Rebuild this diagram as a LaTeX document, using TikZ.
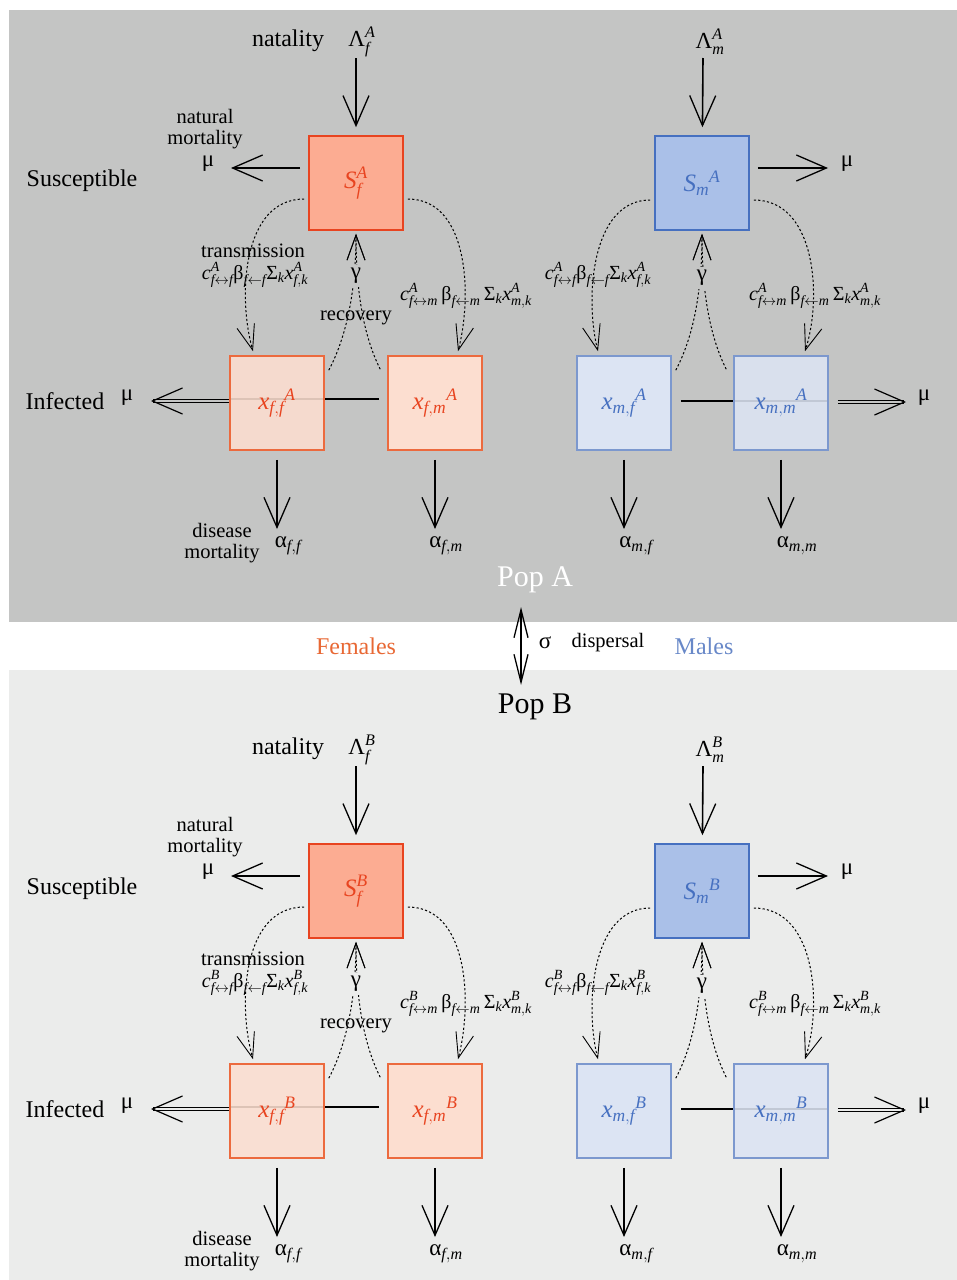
\documentclass[tikz,border=0pt]{standalone}
\usepackage{amsmath}
\usepackage{fontspec}
\setmainfont{Liberation Serif}
\usetikzlibrary{arrows.meta,backgrounds}

\definecolor{panelA}{RGB}{196,197,196}
\definecolor{panelB}{RGB}{235,236,235}
\definecolor{femline}{RGB}{232,68,32}
\definecolor{femfill}{RGB}{252,172,146}
\definecolor{femlight}{RGB}{252,222,208}
\definecolor{femedge}{RGB}{236,106,62}
\definecolor{malline}{RGB}{70,112,192}
\definecolor{malfill}{RGB}{170,192,232}
\definecolor{mallight}{RGB}{220,228,243}
\definecolor{maledge}{RGB}{124,152,206}
\definecolor{femtext}{RGB}{232,104,52}
\definecolor{maltext}{RGB}{104,136,200}

\newcommand{\vi}[1]{\textit{#1}}
\newcommand{\gr}[1]{\text{#1}}

\begin{document}
\begin{tikzpicture}[x=1pt,y=-1pt,
    box/.style={draw,line width=1.6pt,minimum size=94pt,inner sep=0pt,font=\fontsize{25}{27}\selectfont},
    sf/.style={box,draw=femline,fill=femfill,text=femline},
    sm/.style={box,draw=malline,fill=malfill,text=malline},
    xf/.style={box,draw=femedge,fill=femlight,text=femline},
    xm/.style={box,draw=maledge,fill=mallight,text=malline},
    seethru/.style={fill opacity=0.88,text opacity=1},
    lbl/.style={font=\fontsize{20.5}{21}\selectfont,align=center,inner sep=0pt},
    big/.style={font=\fontsize{24}{26}\selectfont,inner sep=0pt},
    rate/.style={font=\fontsize{23}{25}\selectfont,inner sep=0pt},
    frm/.style={font=\fontsize{20}{22}\selectfont,inner sep=0pt},
    flow/.style={line width=1.6pt,-{Straight Barb[length=30pt,width=26pt,line width=1.3pt]}},
    loss/.style={line width=1.2pt,double distance=2.4pt,-{Straight Barb[length=30pt,width=26pt]}},
    infect/.style={dash pattern=on 2.2pt off 2.2pt,line width=1pt,-{Straight Barb[length=25pt,width=18pt,line width=0.9pt]}},
    link/.style={line width=1.6pt},
    mig/.style={line width=1.3pt,{Straight Barb[length=28pt,width=14pt]}-{Straight Barb[length=28pt,width=14pt]}}]

    \useasboundingbox (0,0) rectangle (957,1280);
    \begin{pgfonlayer}{background}
    \fill[panelA] (9,10) rectangle (957,622);
    \fill[panelB] (9,670) rectangle (957,1280);
    \end{pgfonlayer}

    \foreach \p/\dy/\bg in {A/0/panelA,B/708/panelB}{
    \begin{scope}[yshift=-\dy pt]

    \node[big] (Sus\p) at (82,181) {Susceptible};
    \node[big] (Inf\p) at (65,401) {Infected};

    % compartments
    \node[sf] (Sf\p) at (356,183) {$\vi{S}_{\vi{f}}^{\vi{\p}}$};
    \node[xf,seethru] (Xff\p) at (277,403) {$\vi{x}_{\vi{f},\vi{f}}{}^{\vi{\p}}$};
    \node[xf] (Xfm\p) at (435,403) {$\vi{x}_{\vi{f},\vi{m}}{}^{\vi{\p}}$};
    \node[sm] (Sm\p) at (702,183) {$\vi{S}_{\vi{m}}{}^{\vi{\p}}$};
    \node[xm] (Xmf\p) at (624,403) {$\vi{x}_{\vi{m},\vi{f}}{}^{\vi{\p}}$};
    \node[xm,seethru] (Xmm\p) at (781,403) {$\vi{x}_{\vi{m},\vi{m}}{}^{\vi{\p}}$};

    \begin{pgfonlayer}{background}
    \draw[link,shorten <=8pt] ([yshift=4pt]Xfm\p.west) -- ([yshift=4pt]Xff\p.west);
    \draw[link,shorten <=9pt] ([yshift=2pt]Xmf\p.east) -- ([yshift=2pt]Xmm\p.east);
    \end{pgfonlayer}

    % natality
    \node[big] (Nat\p) at (288,41) {natality};
    \node[rate] (Lf\p) at (362,42) {$\gr{Λ}_{\vi{f}}^{\vi{\p}}$};
    \node[rate] (Lm\p) at (710,42) {$\gr{Λ}_{\vi{m}}^{\vi{\p}}$};
    \coordinate (Nf\p) at (356,58);
    \coordinate (Nm\p) at (703,58);
    \draw[flow,shorten >=8pt] (Nf\p) -- (Sf\p);
    \draw[flow,shorten >=8pt] (Nm\p) -- (Sm\p);

    % natural mortality
    \node[lbl] (Nmort\p) at (205,129) {natural\\mortality};
    \node[rate] (Mf\p) at (208,164) {μ};
    \node[rate] (Mm\p) at (847,164) {μ};
    \node[rate] (Mi\p) at (127,398) {μ};
    \node[rate] (Mo\p) at (924,398) {μ};
    \coordinate (Df\p) at (231,168);
    \coordinate (Dm\p) at (828,168);
    \coordinate (Li\p) at (151,401);
    \coordinate (Ri\p) at (906,402);
    \draw[flow,shorten <=8pt] ([yshift=15pt]Sf\p.west) -- (Df\p);
    \draw[flow,shorten <=8pt] ([yshift=15pt]Sm\p.east) -- (Dm\p);
    \draw[loss,double=\bg] ([yshift=2pt]Xff\p.west) -- (Li\p);
    \draw[loss,double=\bg,shorten <=9pt] ([yshift=1pt]Xmm\p.east) -- (Ri\p);

    % disease mortality
    \node[lbl] (Dmort\p) at (222,543) {disease\\mortality};
    \node[rate] (Aff\p) at (288,546) {$\gr{α}_{\vi{f},\vi{f}}$};
    \node[rate] (Afm\p) at (446,546) {$\gr{α}_{\vi{f},\vi{m}}$};
    \node[rate] (Amf\p) at (636,546) {$\gr{α}_{\vi{m},\vi{f}}$};
    \node[rate] (Amm\p) at (797,546) {$\gr{α}_{\vi{m},\vi{m}}$};
    \coordinate (Eff\p) at (277,529);
    \coordinate (Efm\p) at (435,529);
    \coordinate (Emf\p) at (624,529);
    \coordinate (Emm\p) at (781,529);
    \draw[flow,shorten <=9pt] (Xff\p) -- (Eff\p);
    \draw[flow,shorten <=9pt] (Xfm\p) -- (Efm\p);
    \draw[flow,shorten <=9pt] (Xmf\p) -- (Emf\p);
    \draw[flow,shorten <=9pt] (Xmm\p) -- (Emm\p);

    % transmission
    \draw[infect] ([xshift=-4pt,yshift=-16pt]Sf\p.west) .. controls +(-63,0) and +(-15,-52) .. ([xshift=-24pt,yshift=4pt]Xff\p.north);
    \draw[infect] ([xshift=4pt,yshift=-16pt]Sf\p.east) .. controls +(62,0) and +(14,-53) .. ([xshift=23pt,yshift=4pt]Xfm\p.north);
    \draw[infect] ([xshift=-4pt,yshift=-17pt]Sm\p.west) .. controls +(-60,0) and +(-13,-50) .. ([xshift=-26pt,yshift=4pt]Xmf\p.north);
    \draw[infect] ([xshift=4pt,yshift=-17pt]Sm\p.east) .. controls +(63,0) and +(17,-52) .. ([xshift=24pt,yshift=4pt]Xmm\p.north);
    \node[lbl] (Tr\p) at (253,251) {transmission};
    \node[frm] (Bff\p) at (255,275) {$\vi{c}^{\vi{\p}}_{\vi{f}\leftrightarrow\vi{f}}\gr{β}_{\vi{f}\leftarrow\vi{f}}\gr{Σ}_{\vi{k}}\vi{x}^{\vi{\p}}_{\vi{f},\vi{k}}$};
    \node[frm] (Bfm\p) at (466,296) {$\vi{c}^{\vi{\p}}_{\vi{f}\leftrightarrow\vi{m}}\,\gr{β}_{\vi{f}\leftarrow\vi{m}}\,\gr{Σ}_{\vi{k}}\vi{x}^{\vi{\p}}_{\vi{m},\vi{k}}$};
    \node[frm] (Bmf\p) at (598,275) {$\vi{c}^{\vi{\p}}_{\vi{f}\leftrightarrow\vi{f}}\gr{β}_{\vi{f}\leftarrow\vi{f}}\gr{Σ}_{\vi{k}}\vi{x}^{\vi{\p}}_{\vi{f},\vi{k}}$};
    \node[frm] (Bmm\p) at (815,296) {$\vi{c}^{\vi{\p}}_{\vi{f}\leftrightarrow\vi{m}}\,\gr{β}_{\vi{f}\leftarrow\vi{m}}\,\gr{Σ}_{\vi{k}}\vi{x}^{\vi{\p}}_{\vi{m},\vi{k}}$};

    % recovery
    \draw[infect,shorten >=3pt] ([xshift=4pt,yshift=-15pt]Xff\p.north east) .. controls +(19,-36) and +(0,56) .. (Sf\p.south);
    \draw[infect,shorten >=3pt] ([xshift=-7pt,yshift=-14pt]Xfm\p.north west) .. controls +(-18,-36) and +(0,56) .. (Sf\p.south);
    \draw[infect,shorten >=3pt] ([xshift=4pt,yshift=-15pt]Xmf\p.north east) .. controls +(19,-36) and +(0,56) .. (Sm\p.south);
    \draw[infect,shorten >=3pt] ([xshift=-7pt,yshift=-14pt]Xmm\p.north west) .. controls +(-18,-36) and +(0,56) .. (Sm\p.south);
    \node[rate,fill=\bg,inner sep=3pt] (Gf\p) at (356,276) {γ};
    \node[rate,fill=\bg,inner sep=3pt] (Gm\p) at (702,278) {γ};
    \node[lbl] (Rec\p) at (356,318) {recovery};

    \end{scope}
    }

    % between the populations
    \node[font=\fontsize{30}{32}\selectfont,text=white,inner sep=0pt] (PopA) at (535,580) {Pop A};
    \node[font=\fontsize{30}{32}\selectfont,inner sep=0pt] (PopB) at (535,707) {Pop B};
    \node[big,text=femtext] (Fem) at (356,646) {Females};
    \node[big,text=maltext] (Mal) at (704,646) {Males};
    \node[rate] (Sig) at (545,643) {σ};
    \node[lbl] (Dis) at (608,643) {dispersal};
    \coordinate (DA) at (521,607);
    \coordinate (DB) at (521,685);
    \draw[mig] (DA) -- (DB);

\end{tikzpicture}
\end{document}
